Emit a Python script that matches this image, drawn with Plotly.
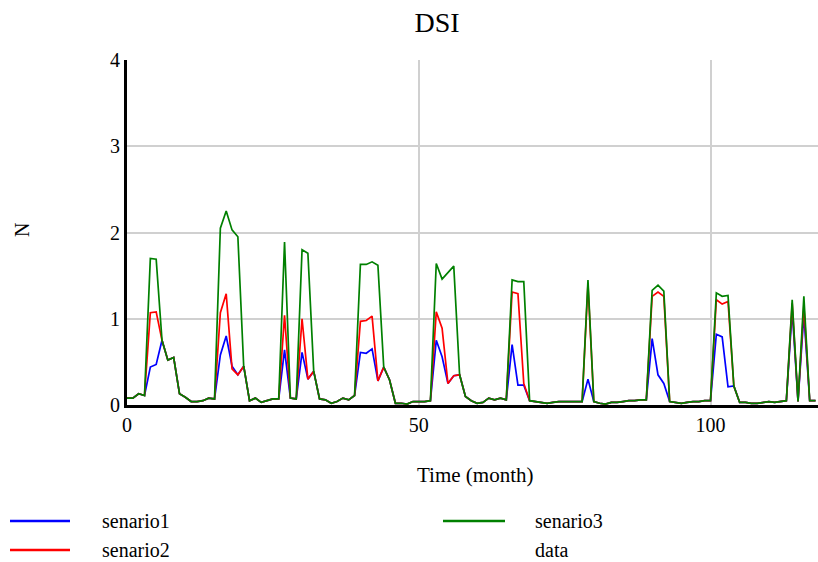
import plotly.graph_objects as go

# Time in months
time = list(range(0, 119))

senario1 = [0.08, 0.08, 0.13, 0.11, 0.44, 0.47, 0.75, 0.52, 0.55, 0.13,
            0.09, 0.04, 0.04, 0.05, 0.08, 0.07, 0.58, 0.80, 0.45, 0.35,
            0.45, 0.05, 0.08, 0.03, 0.05, 0.07, 0.07, 0.64, 0.08, 0.07,
            0.61, 0.30, 0.39, 0.07, 0.06, 0.02, 0.04, 0.08, 0.06, 0.11,
            0.61, 0.60, 0.65, 0.28, 0.44, 0.29, 0.02, 0.02, 0.01, 0.04,
            0.04, 0.04, 0.05, 0.75, 0.56, 0.25, 0.34, 0.35, 0.10, 0.05,
            0.02, 0.03, 0.08, 0.06, 0.08, 0.06, 0.70, 0.23, 0.23, 0.05,
            0.04, 0.03, 0.02, 0.03, 0.04, 0.04, 0.04, 0.04, 0.04, 0.30,
            0.04, 0.02, 0.01, 0.03, 0.03, 0.04, 0.05, 0.05, 0.06, 0.06,
            0.77, 0.35, 0.25, 0.04, 0.03, 0.02, 0.03, 0.04, 0.04, 0.05,
            0.05, 0.82, 0.79, 0.21, 0.22, 0.03, 0.03, 0.02, 0.02, 0.03,
            0.04, 0.03, 0.04, 0.05, 1.10, 0.04, 1.05, 0.05, 0.05]

senario2 = [0.08, 0.08, 0.13, 0.11, 1.07, 1.08, 0.75, 0.52, 0.55, 0.13,
            0.09, 0.04, 0.04, 0.05, 0.08, 0.07, 1.07, 1.29, 0.42, 0.35,
            0.45, 0.05, 0.08, 0.03, 0.05, 0.07, 0.07, 1.04, 0.08, 0.07,
            1.00, 0.30, 0.39, 0.07, 0.06, 0.02, 0.04, 0.08, 0.06, 0.11,
            0.97, 0.98, 1.03, 0.28, 0.44, 0.29, 0.02, 0.02, 0.01, 0.04,
            0.04, 0.04, 0.05, 1.08, 0.89, 0.25, 0.34, 0.35, 0.10, 0.05,
            0.02, 0.03, 0.08, 0.06, 0.08, 0.06, 1.31, 1.29, 0.25, 0.05,
            0.04, 0.03, 0.02, 0.03, 0.04, 0.04, 0.04, 0.04, 0.04, 1.40,
            0.04, 0.02, 0.01, 0.03, 0.03, 0.04, 0.05, 0.05, 0.06, 0.06,
            1.26, 1.31, 1.26, 0.04, 0.03, 0.02, 0.03, 0.04, 0.04, 0.05,
            0.05, 1.22, 1.17, 1.20, 0.22, 0.03, 0.03, 0.02, 0.02, 0.03,
            0.04, 0.03, 0.04, 0.05, 1.18, 0.04, 1.15, 0.05, 0.05]

senario3 = [0.08, 0.08, 0.13, 0.11, 1.70, 1.69, 0.75, 0.52, 0.55, 0.13,
            0.09, 0.04, 0.04, 0.05, 0.08, 0.07, 2.05, 2.25, 2.03, 1.95,
            0.45, 0.05, 0.08, 0.03, 0.05, 0.07, 0.07, 1.89, 0.08, 0.07,
            1.80, 1.76, 0.39, 0.07, 0.06, 0.02, 0.04, 0.08, 0.06, 0.11,
            1.63, 1.63, 1.66, 1.62, 0.44, 0.29, 0.02, 0.02, 0.01, 0.04,
            0.04, 0.04, 0.05, 1.64, 1.46, 1.53, 1.61, 0.35, 0.10, 0.05,
            0.02, 0.03, 0.08, 0.06, 0.08, 0.06, 1.45, 1.43, 1.43, 0.05,
            0.04, 0.03, 0.02, 0.03, 0.04, 0.04, 0.04, 0.04, 0.04, 1.45,
            0.04, 0.02, 0.01, 0.03, 0.03, 0.04, 0.05, 0.05, 0.06, 0.06,
            1.33, 1.39, 1.32, 0.04, 0.03, 0.02, 0.03, 0.04, 0.04, 0.05,
            0.05, 1.30, 1.26, 1.27, 0.22, 0.03, 0.03, 0.02, 0.02, 0.03,
            0.04, 0.03, 0.04, 0.05, 1.22, 0.04, 1.26, 0.05, 0.05]

data_series = []  # "data" series has no visible values

x_ticks = [0, 50, 100]
y_ticks = [0, 1, 2, 3, 4]

FONT = "Liberation Serif"
W, H = 818, 562
L, T, R = 127, 60, 0
B = H - 405
PW, PH = W - L - R, H - T - B


def px2x(px):
    return (px - L) / PW


def py2y(py):
    return (H - B - py) / PH


fig = go.Figure()
fig.add_trace(go.Scatter(x=time, y=senario1, mode="lines", name="senario1",
                         line=dict(color="rgb(0,0,255)", width=1.7)))
fig.add_trace(go.Scatter(x=time, y=senario2, mode="lines", name="senario2",
                         line=dict(color="rgb(255,0,0)", width=1.7)))
fig.add_trace(go.Scatter(x=time, y=senario3, mode="lines", name="senario3",
                         line=dict(color="rgb(0,128,0)", width=1.7)))
fig.add_trace(go.Scatter(x=[], y=data_series, mode="lines", name="data",
                         line=dict(color="rgb(128,128,128)", width=1.7)))

legend_items = [("senario1", "rgb(0,0,255)", 10, 70, 100, 521),
                ("senario2", "rgb(255,0,0)", 10, 70, 100, 550),
                ("senario3", "rgb(0,128,0)", 443, 505, 533, 521),
                ("data", None, 443, 505, 533, 550)]

shapes = []
annotations = []
for name, color, x0, x1, xt, yy in legend_items:
    if color:
        shapes.append(dict(type="line", xref="paper", yref="paper",
                           x0=px2x(x0), x1=px2x(x1), y0=py2y(yy), y1=py2y(yy),
                           line=dict(color=color, width=2.5)))
    annotations.append(dict(text=name, xref="paper", yref="paper",
                            x=px2x(xt), y=py2y(yy), xanchor="left", yanchor="middle",
                            showarrow=False, font=dict(family=FONT, size=20, color="black")))

annotations.append(dict(text="Time (month)", xref="paper", yref="paper",
                        x=px2x(475), y=py2y(475), xanchor="center", yanchor="middle",
                        showarrow=False, font=dict(family=FONT, size=21, color="black")))
annotations.append(dict(text="N", xref="paper", yref="paper", textangle=-90,
                        x=px2x(22), y=py2y(230), xanchor="center", yanchor="middle",
                        showarrow=False, font=dict(family=FONT, size=20, color="black")))

fig.update_layout(
    width=W, height=H,
    margin=dict(l=L, r=R, t=T, b=B),
    paper_bgcolor="white", plot_bgcolor="white",
    title=dict(text="DSI", xref="paper", x=px2x(437), xanchor="center",
               yref="container", y=1 - 22 / H, yanchor="middle",
               font=dict(family=FONT, size=28, color="black")),
    shapes=shapes, annotations=annotations,
    showlegend=False,
    xaxis=dict(range=[0, PW / 5.835], tickvals=x_ticks, ticktext=[str(v) for v in x_ticks],
               showgrid=True, gridcolor="#d0d0d0", gridwidth=2, zeroline=False,
               showline=True, linecolor="black", linewidth=3, ticks="",
               tickfont=dict(family=FONT, size=20, color="black")),
    yaxis=dict(range=[0, 4], tickvals=y_ticks, ticktext=[str(v) for v in y_ticks],
               showgrid=True, gridcolor="#d0d0d0", gridwidth=2, zeroline=False,
               showline=True, linecolor="black", linewidth=3, ticks="",
               tickfont=dict(family=FONT, size=20, color="black")),
)

fig.write_html("out.html",
               config={"displayModeBar": False},
               post_script="document.body.style.margin='0';"
                           "document.body.style.overflow='hidden';")
